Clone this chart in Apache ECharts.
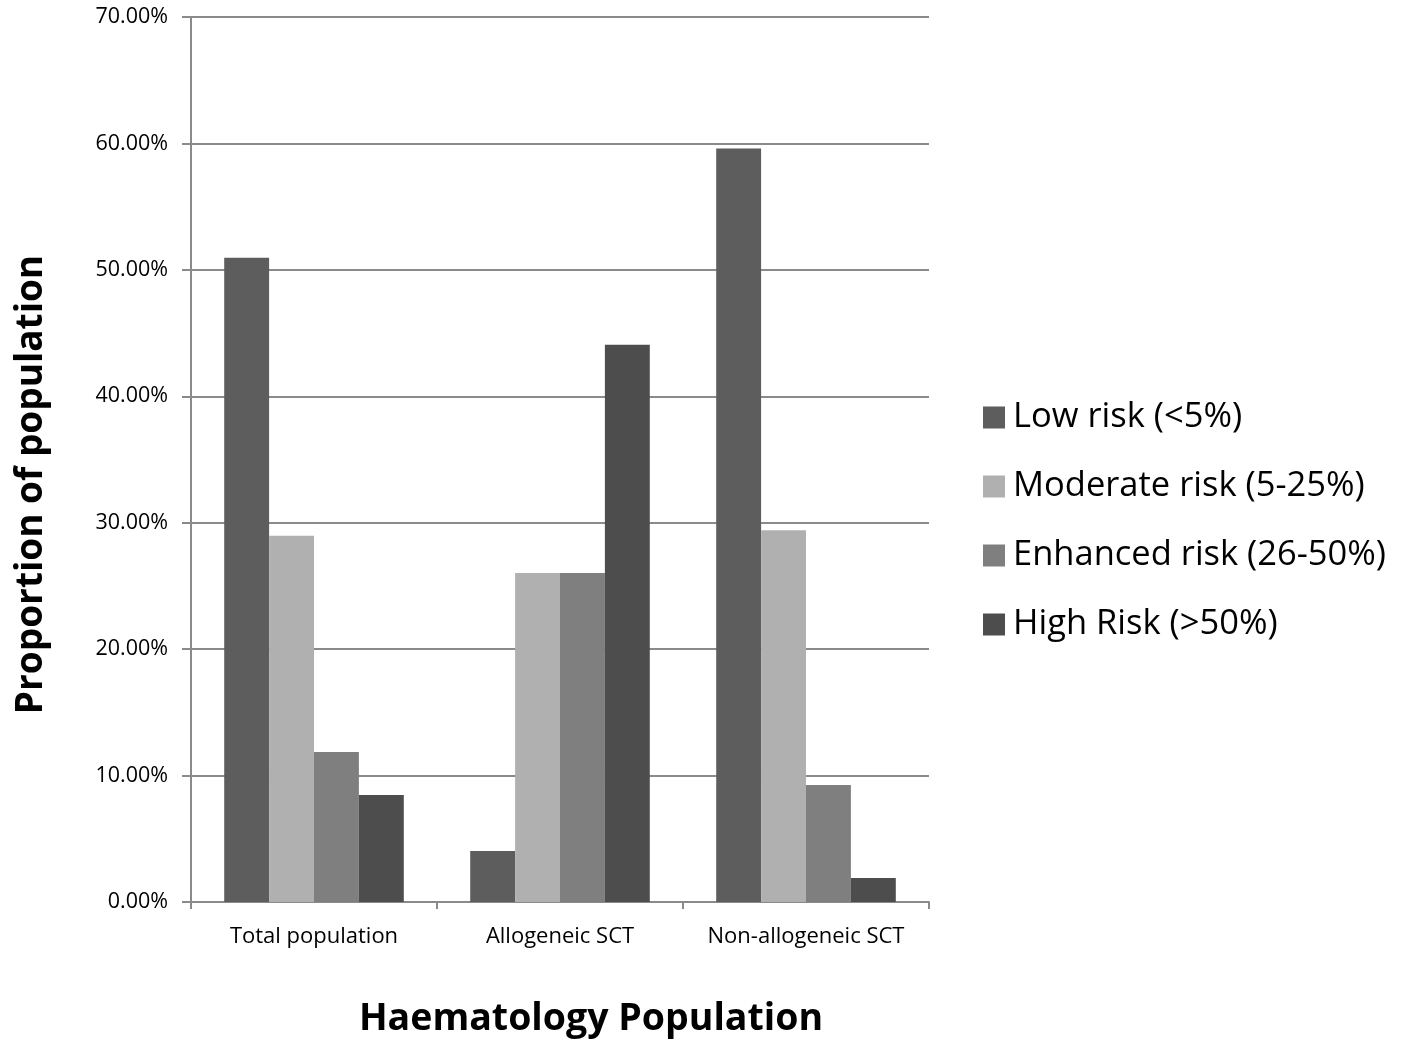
<!DOCTYPE html>
<html><head><meta charset="utf-8">
<script src="https://cdn.jsdelivr.net/npm/echarts@6/dist/echarts.min.js"></script>
<style>html,body{margin:0;padding:0;background:#fff}#c{width:1402px;height:1043px}</style>
</head><body><div id="c"></div>
<script>
const categories = ['Total population', 'Allogeneic SCT', 'Non-allogeneic SCT'];
const seriesNames = ['Low risk (<5%)', 'Moderate risk (5-25%)', 'Enhanced risk (26-50%)', 'High Risk (>50%)'];
const lowRisk = [50.95, 4.03, 59.6];
const moderateRisk = [28.96, 26.03, 29.4];
const enhancedRisk = [11.87, 26.03, 9.26];
const highRisk = [8.47, 44.07, 1.9];
const yTicks = [0, 10, 20, 30, 40, 50, 60, 70];
const colors = ['#5d5d5d', '#b0b0b0', '#7f7f7f', '#4d4d4d'];
const values = [lowRisk, moderateRisk, enhancedRisk, highRisk];
const font = '"Open Sans", sans-serif';

const chart = echarts.init(document.getElementById('c'));
chart.setOption({
  animation: false,
  backgroundColor: '#fff',
  grid: { left: 191, right: 473, top: 17, bottom: 141, containLabel: false, outerBoundsMode: 'none' },
  legend: {
    orient: 'vertical', left: 978, top: 395, itemGap: 34, itemWidth: 22, itemHeight: 22,
    icon: 'rect',
    textStyle: { fontFamily: font, fontSize: 34.5, color: '#000', padding: [0, 0, 0, 3] },
    data: seriesNames
  },
  xAxis: {
    type: 'category', data: categories,
    name: 'Haematology Population', nameLocation: 'middle', nameGap: 98,
    nameTextStyle: { fontFamily: font, fontSize: 37.5, fontWeight: 'bold', color: '#000', padding: [0, 0, 0, 62] },
    axisLine: { lineStyle: { color: '#8a8a8a', width: 2 } },
    axisTick: { show: true, interval: 0, length: 7, lineStyle: { color: '#8a8a8a', width: 2 } },
    axisLabel: { interval: 0, fontFamily: font, fontSize: 22, color: '#000', margin: 24 }
  },
  yAxis: {
    type: 'value', min: 0, max: 70, interval: 10,
    name: 'Proportion of population', nameLocation: 'middle', nameGap: 141,
    nameTextStyle: { fontFamily: font, fontSize: 37, fontWeight: 'bold', color: '#000', padding: [0, 50, 0, 0] },
    axisLine: { show: true, lineStyle: { color: '#8a8a8a', width: 2 } },
    axisTick: { show: true, length: 9, lineStyle: { color: '#8a8a8a', width: 2 } },
    splitLine: { lineStyle: { color: '#8a8a8a', width: 2 } },
    axisLabel: { fontFamily: font, fontSize: 21.5, color: '#000', margin: 23,
      formatter: v => yTicks.includes(v) ? v.toFixed(2) + '%' : '' }
  },
  series: values.map((d, i) => ({
    name: seriesNames[i], type: 'bar', data: d,
    barGap: '0%', barCategoryGap: '27%',
    itemStyle: { color: colors[i] }
  }))
});
</script></body></html>
